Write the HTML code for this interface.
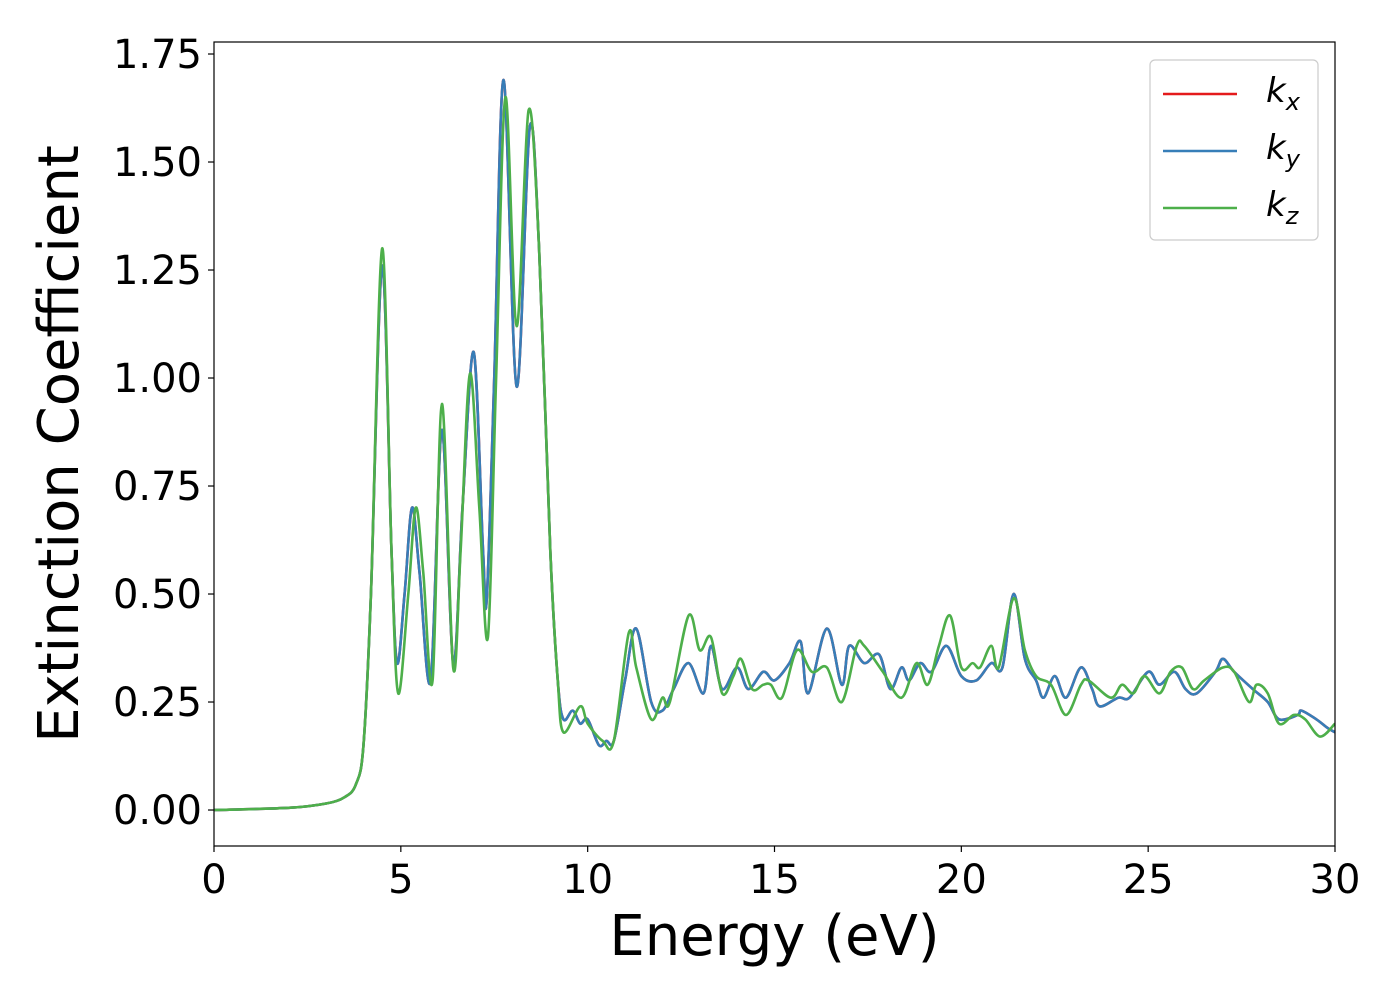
<!DOCTYPE html>
<html><head><meta charset="utf-8"><style>
html,body{margin:0;padding:0;background:#fff;}
svg{display:block;font-family:"DejaVu Sans","Liberation Sans",sans-serif;}
</style></head><body>
<svg id="chart" width="1400" height="1000" xmlns="http://www.w3.org/2000/svg">
<g id="plot"></g>
</svg>
<script>
const xTicks=[0,5,10,15,20,25,30];
const yTicks=[0,0.25,0.5,0.75,1.0,1.25,1.5,1.75];
const yTickLabels=["0.00","0.25","0.50","0.75","1.00","1.25","1.50","1.75"];
const energyY=[0,2,3,3.5,3.8,4.0,4.2,4.5,4.75,4.9,5.1,5.3,5.5,5.8,6.1,6.4,6.65,6.95,7.2,7.3,7.5,7.75,8.1,8.45,8.7,9.0,9.2,9.35,9.6,9.8,10.0,10.3,10.5,10.7,11.0,11.3,11.7,12.0,12.3,12.7,13.1,13.3,13.6,14.0,14.3,14.7,15.0,15.4,15.7,15.9,16.4,16.8,17.0,17.4,17.8,18.1,18.4,18.6,18.9,19.2,19.6,20.0,20.4,20.8,21.1,21.4,21.7,22.0,22.2,22.5,22.8,23.2,23.5,23.7,24.2,24.5,25.0,25.3,25.7,26.0,26.3,26.8,27.0,27.3,27.8,28.2,28.5,29.0,29.1,29.5,29.8,30];
const kyValues=[0,0.005,0.015,0.03,0.06,0.15,0.5,1.26,0.6,0.34,0.5,0.70,0.55,0.30,0.88,0.34,0.7,1.06,0.6,0.49,1.0,1.69,0.98,1.58,1.3,0.6,0.3,0.21,0.23,0.2,0.21,0.15,0.16,0.16,0.3,0.42,0.25,0.23,0.28,0.34,0.27,0.38,0.28,0.33,0.28,0.32,0.3,0.34,0.39,0.27,0.42,0.29,0.38,0.34,0.36,0.28,0.33,0.30,0.34,0.32,0.38,0.31,0.3,0.34,0.33,0.50,0.35,0.30,0.26,0.31,0.26,0.33,0.28,0.24,0.26,0.26,0.32,0.29,0.32,0.28,0.27,0.32,0.35,0.32,0.28,0.25,0.21,0.22,0.23,0.21,0.19,0.18];
const kxValues=kyValues.slice();
const energyZ=[0,2,3,3.5,3.8,4.0,4.2,4.5,4.75,4.93,5.2,5.4,5.6,5.85,6.1,6.4,6.6,6.85,7.1,7.33,7.55,7.8,8.1,8.42,8.7,9.0,9.2,9.35,9.8,10.0,10.4,10.7,11.1,11.3,11.7,12.0,12.2,12.7,13.0,13.3,13.6,13.9,14.1,14.4,14.7,14.9,15.2,15.6,16.0,16.4,16.8,17.2,17.4,17.9,18.4,18.8,19.1,19.4,19.7,20.0,20.3,20.5,20.8,21.0,21.4,21.7,22.0,22.4,22.8,23.2,23.4,24.0,24.3,24.6,24.9,25.3,25.6,25.9,26.2,26.5,27.0,27.3,27.7,27.9,28.2,28.5,28.9,29.2,29.6,30];
const kzValues=[0,0.005,0.015,0.03,0.06,0.15,0.5,1.30,0.6,0.27,0.5,0.70,0.55,0.30,0.94,0.33,0.6,1.01,0.7,0.40,1.0,1.65,1.12,1.62,1.3,0.6,0.3,0.18,0.24,0.2,0.16,0.16,0.41,0.33,0.21,0.26,0.25,0.45,0.37,0.40,0.27,0.31,0.35,0.28,0.29,0.29,0.26,0.37,0.32,0.33,0.25,0.38,0.38,0.32,0.26,0.34,0.29,0.38,0.45,0.33,0.34,0.33,0.38,0.33,0.49,0.37,0.31,0.29,0.22,0.29,0.3,0.26,0.29,0.27,0.31,0.27,0.32,0.33,0.28,0.30,0.33,0.32,0.25,0.29,0.27,0.20,0.22,0.21,0.17,0.2];

const NS="http://www.w3.org/2000/svg";
const L=214,R=1335,T=42,B=846;
const xMin=0,xMax=30,yMin=-0.0833,yMax=1.7778;
function sx(v){return L+(v-xMin)/(xMax-xMin)*(R-L);}
function sy(v){return B-(v-yMin)/(yMax-yMin)*(B-T);}
const svg=document.getElementById('chart');
const plot=document.getElementById('plot');
function mk(tag,attrs,parent){const e=document.createElementNS(NS,tag);for(const k in attrs)e.setAttribute(k,attrs[k]);(parent||svg).appendChild(e);return e;}

const clip=mk('clipPath',{id:'clip'});mk('rect',{x:L,y:T,width:R-L,height:B-T},clip);

function pathFor(xs,ys){
  const p=xs.map((x,i)=>[sx(x),sy(ys[i])]);
  let d='M'+p[0][0].toFixed(2)+','+p[0][1].toFixed(2);
  for(let i=0;i<p.length-1;i++){
    const p0=p[Math.max(0,i-1)],p1=p[i],p2=p[i+1],p3=p[Math.min(p.length-1,i+2)];
    const t=0.5/3;
    let c1y=p1[1]+(p2[1]-p0[1])*t, c2y=p2[1]-(p3[1]-p1[1])*t;
    const c1x=p1[0]+(p2[0]-p0[0])*t, c2x=p2[0]-(p3[0]-p1[0])*t;
    d+=' C'+c1x.toFixed(2)+','+c1y.toFixed(2)+' '+c2x.toFixed(2)+','+c2y.toFixed(2)+' '+p2[0].toFixed(2)+','+p2[1].toFixed(2);
  }
  return d;
}
const series=[[energyY,kxValues,'#e41a1c','kx-line'],[energyY,kyValues,'#377eb8','ky-line'],[energyZ,kzValues,'#4daf4a','kz-line']];
series.forEach(s=>{
  const p=mk('path',{d:pathFor(s[0],s[1]),fill:'none',stroke:s[2],'stroke-width':2.6,'clip-path':'url(#clip)'},plot);
  
  
});

const frame=mk('rect',{x:L,y:T,width:R-L,height:B-T,fill:'none',stroke:'#000','stroke-width':1.2});



xTicks.forEach(v=>{
  const t=mk('line',{x1:sx(v),x2:sx(v),y1:B,y2:B+6,stroke:'#000','stroke-width':1.2});
  
  
  const tx=mk('text',{x:sx(v),y:B+47,'text-anchor':'middle','font-size':40});
  tx.textContent=String(v);
  
  
});
yTicks.forEach((v,i)=>{
  const t=mk('line',{x1:L-6,x2:L,y1:sy(v),y2:sy(v),stroke:'#000','stroke-width':1.2});
  
  
  const tx=mk('text',{x:L-12,y:sy(v)+14,'text-anchor':'end','font-size':40});
  tx.textContent=yTickLabels[i];
  
  
});
const xl=mk('text',{x:(L+R)/2,y:955,'text-anchor':'middle','font-size':56});
xl.textContent='Energy (eV)';


const yl=mk('text',{x:0,y:0,'text-anchor':'middle','font-size':56,transform:'translate(78,444) rotate(-90)'});
yl.textContent='Extinction Coefficient';



const lg=mk('g',{});


mk('rect',{x:1150,y:60,width:168,height:180,rx:5,fill:'#fff',stroke:'#ccc','stroke-width':1.2},lg);
const subs=['x','y','z'];
series.forEach((s,i)=>{
  const y=94+i*57;
  const ln=mk('line',{x1:1163,x2:1237,y1:y,y2:y,stroke:s[2],'stroke-width':2.6},lg);
  
  
  const t=mk('text',{x:1266,y:y+8,'font-size':34,'font-style':'italic'},lg);
  
  
  const a=document.createElementNS(NS,'tspan');a.textContent='k';t.appendChild(a);
  const b=document.createElementNS(NS,'tspan');b.setAttribute('dy','8');b.setAttribute('font-size','24');b.textContent=subs[i];t.appendChild(b);
});
</script>
</body></html>
